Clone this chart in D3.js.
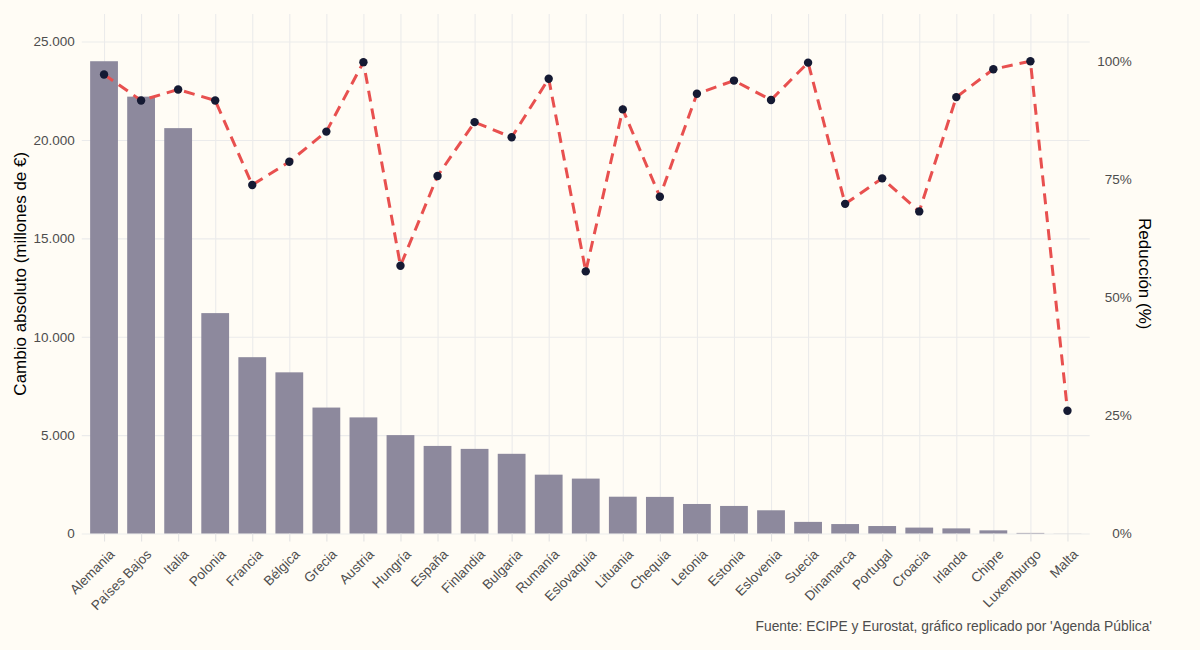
<!DOCTYPE html>
<html>
  <head>
    <meta http-equiv="Content-Type" content="text/html;charset=utf-8"/>
    <title>Cambio absoluto y reducción</title>
    <script src="https://d3js.org/d3.v7.min.js" charset="utf-8"></script>
    <style>
      body {
        margin: 0;
        background: #fffcf5;
        font-family: 'Liberation Sans', Arial, sans-serif;
      }
      .grid line { stroke: #ebebeb; stroke-width: 1.1px; }
      .grid path { display: none; }
      .axis path { display: none; }
      .axis text { fill: #4d4d4d; font-size: 13.5px; }
      .xaxis line { stroke: #e3e3e3; stroke-width: 1.1px; }
      .title { fill: #000; font-size: 17px; }
      .caption { fill: #4d4d4d; font-size: 13.8px; }
    </style>
  </head>
  <body>
    <div id="chart"></div>
  <script>
  ////////////////////////////////////////////////////////////
  //////////////////////// Data //////////////////////////////
  ////////////////////////////////////////////////////////////

  var countries = ["Alemania", "Países Bajos", "Italia", "Polonia", "Francia", "Bélgica",
    "Grecia", "Austria", "Hungría", "España", "Finlandia", "Bulgaria", "Rumanía",
    "Eslovaquia", "Lituania", "Chequia", "Letonia", "Estonia", "Eslovenia", "Suecia",
    "Dinamarca", "Portugal", "Croacia", "Irlanda", "Chipre", "Luxemburgo", "Malta"];

  // absolute change, millions of €
  var change = [24000, 22200, 20600, 11200, 8960, 8190, 6400, 5900, 5000, 4450, 4300,
    4050, 2990, 2790, 1870, 1860, 1500, 1400, 1180, 590, 480, 380, 300, 260, 160, 30, 5];

  // reduction, %
  var reduction = [97.2, 91.7, 94.0, 91.7, 73.8, 78.7, 85.1, 99.8, 56.7, 75.7, 87.1,
    83.9, 96.3, 55.5, 89.8, 71.3, 93.1, 95.9, 91.8, 99.7, 69.8, 75.2, 68.2, 92.4,
    98.3, 100, 26.0];

  var leftTicks = [0, 5000, 10000, 15000, 20000, 25000];
  var rightTicks = [0, 25, 50, 75, 100];

  ////////////////////////////////////////////////////////////
  //////////////////////// Set-Up ////////////////////////////
  ////////////////////////////////////////////////////////////

  var width = 1200, height = 650;
  var panel = {left: 81.8, right: 1089.7, top: 14, bottom: 533.5};
  var pctScale = 240; // 100% sits at 24.000 on the left axis

  var es = d3.formatLocale({decimal: ",", thousands: ".", grouping: [3], currency: ["", "€"]});
  var fmt = es.format(",");

  var x = d3.scalePoint()
    .domain(countries)
    .range([panel.left, panel.right])
    .padding(0.6);

  var y = d3.scaleLinear()
    .domain([0, 26400])
    .range([panel.bottom, panel.top]);

  var yPct = d3.scaleLinear()
    .domain([0, 26400 / pctScale])
    .range([panel.bottom, panel.top]);

  var barW = x.step() * 0.75;

  var svg = d3.select("#chart").append("svg")
    .attr("width", width)
    .attr("height", height);

  svg.append("rect")
    .attr("width", width).attr("height", height)
    .attr("fill", "#fffcf5");

  // grid
  svg.append("g")
    .attr("class", "grid")
    .attr("transform", "translate(" + panel.left + ",0)")
    .call(d3.axisLeft(y).tickValues(leftTicks).tickSize(-(panel.right - panel.left)).tickFormat(""));

  svg.append("g")
    .attr("class", "grid")
    .attr("transform", "translate(0," + panel.bottom + ")")
    .call(d3.axisBottom(x).tickSize(-(panel.bottom - panel.top)).tickFormat(""));

  // bars
  svg.append("g").selectAll("rect")
    .data(countries)
    .enter().append("rect")
    .attr("x", function(d) { return x(d) - barW / 2; })
    .attr("y", function(d, i) { return y(change[i]); })
    .attr("width", barW)
    .attr("height", function(d, i) { return y(0) - y(change[i]); })
    .attr("fill", "#8d899d");

  // dashed line + points
  var line = d3.line()
    .x(function(d, i) { return x(countries[i]); })
    .y(function(d) { return yPct(d); });

  svg.append("path")
    .datum(reduction)
    .attr("d", line)
    .attr("fill", "none")
    .attr("stroke", "#e8504f")
    .attr("stroke-width", 3)
    .attr("stroke-dasharray", "11,7");

  svg.append("g").selectAll("circle")
    .data(reduction)
    .enter().append("circle")
    .attr("cx", function(d, i) { return x(countries[i]); })
    .attr("cy", function(d) { return yPct(d); })
    .attr("r", 4.2)
    .attr("fill", "#151a33");

  ////////////////////////////////////////////////////////////
  //////////////////////// Axes //////////////////////////////
  ////////////////////////////////////////////////////////////

  svg.append("g")
    .attr("class", "axis")
    .attr("transform", "translate(" + panel.left + ",0)")
    .call(d3.axisLeft(y).tickValues(leftTicks).tickSize(0).tickPadding(7).tickFormat(fmt));

  var right = svg.append("g")
    .attr("class", "axis")
    .attr("transform", "translate(" + panel.right + ",0)")
    .call(d3.axisRight(yPct).tickValues(rightTicks).tickSize(0).tickFormat(function(d) { return d + "%"; }));
  right.selectAll("text").attr("x", 42).attr("text-anchor", "end");

  var xa = svg.append("g")
    .attr("class", "axis xaxis")
    .attr("transform", "translate(0," + panel.bottom + ")")
    .call(d3.axisBottom(x).tickSize(8));
  xa.selectAll("text")
    .attr("text-anchor", "end")
    .attr("x", null).attr("y", null).attr("dy", "0.71em")
    .attr("transform", "translate(4,15) rotate(-45)");

  svg.append("text")
    .attr("class", "title")
    .attr("text-anchor", "middle")
    .attr("transform", "translate(26," + ((panel.top + panel.bottom) / 2) + ") rotate(-90)")
    .text("Cambio absoluto (millones de €)");

  svg.append("text")
    .attr("class", "title")
    .attr("text-anchor", "middle")
    .attr("transform", "translate(1139," + ((panel.top + panel.bottom) / 2) + ") rotate(90)")
    .text("Reducción (%)");

  svg.append("text")
    .attr("class", "caption")
    .attr("text-anchor", "end")
    .attr("x", 1152).attr("y", 631)
    .text("Fuente: ECIPE y Eurostat, gráfico replicado por 'Agenda Pública'");
  </script>
  </body>
</html>
